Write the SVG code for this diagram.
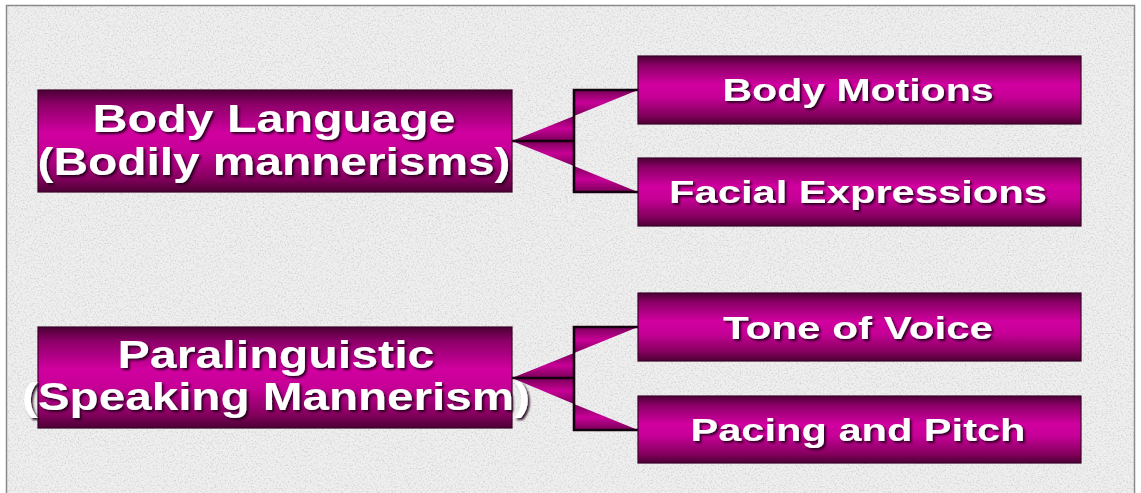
<svg xmlns="http://www.w3.org/2000/svg" width="1141" height="493" viewBox="0 0 1141 493">
  <defs>
    <style>
      .box { fill: url(#boxFill); stroke: #3a0028; stroke-width: 1.2; }
      .wedge { fill: url(#wedgeFill); }
      .bar { stroke: #14000e; stroke-width: 2.6; fill: none; stroke-linecap: square; }
      .lbl { font-family: "Liberation Sans", Arial, sans-serif; font-weight: bold; fill: #ffffff; text-anchor: middle; filter: url(#textShadow); }
      .big { font-size: 39px; }
      .small { font-size: 32px; }
    </style>
    <linearGradient id="boxFill" x1="0" y1="0" x2="0" y2="1">
      <stop offset="0" stop-color="#4a0033"/>
      <stop offset="0.14" stop-color="#8c0068"/>
      <stop offset="0.42" stop-color="#d100a0"/>
      <stop offset="0.6" stop-color="#c60097"/>
      <stop offset="0.86" stop-color="#86005f"/>
      <stop offset="1" stop-color="#4d0035"/>
    </linearGradient>
    <linearGradient id="wedgeFill" x1="0" y1="0" x2="0" y2="1">
      <stop offset="0" stop-color="#7a0058"/>
      <stop offset="0.5" stop-color="#c80098"/>
      <stop offset="1" stop-color="#7a0058"/>
    </linearGradient>
    <filter id="textShadow" x="-5%" y="-20%" width="110%" height="150%">
      <feDropShadow dx="2" dy="2" stdDeviation="0.8" flood-color="#1c0014" flood-opacity="0.9"/>
    </filter>
    <filter id="grain" x="0" y="0" width="100%" height="100%">
      <feTurbulence type="fractalNoise" baseFrequency="0.6" numOctaves="3" seed="7" result="n"/>
      <feColorMatrix in="n" type="matrix" values="0 0 0 0 0.66  0 0 0 0 0.66  0 0 0 0 0.66  2.8 0 0 0 -1.3"/>
    </filter>
  </defs>

  <!-- slide background with stone texture -->
  <rect x="0" y="0" width="1141" height="493" fill="#ffffff"/>
  <rect x="6.5" y="5.5" width="1128" height="495" fill="#efefef"/>
  <rect x="6.5" y="5.5" width="1128" height="495" filter="url(#grain)"/>
  <rect x="6.5" y="5.5" width="1128" height="495" fill="none" stroke="#8a8a8a" stroke-width="1.5"/>

  <!-- bracket connectors -->
  <g id="connectors">
    <!-- upper bracket -->
    <polygon class="wedge" points="512,141 574,116 574,141"/>
    <polygon class="wedge" points="574,90 574,116 638,90"/>
    <polygon class="wedge" points="512,141 574,141 574,166"/>
    <polygon class="wedge" points="574,166 574,192 638,192"/>
    <path class="bar" d="M513,141 H574 M638,90 H574 V192 H638"/>
    <!-- lower bracket -->
    <polygon class="wedge" points="512,378 574,353 574,378"/>
    <polygon class="wedge" points="574,327 574,353 638,327"/>
    <polygon class="wedge" points="512,378 574,378 574,404"/>
    <polygon class="wedge" points="574,404 574,430 638,430"/>
    <path class="bar" d="M513,378 H574 M638,327 H574 V430 H638"/>
  </g>

  <g id="node-body-language">
    <rect class="box" x="38" y="90" width="474" height="102"/>
    <text class="lbl big" x="274" y="132" textLength="363" lengthAdjust="spacingAndGlyphs">Body Language</text>
    <text class="lbl big" x="274" y="175" textLength="473" lengthAdjust="spacingAndGlyphs">(Bodily mannerisms)</text>
  </g>

  <g id="node-body-motions">
    <rect class="box" x="638" y="56" width="443" height="68"/>
    <text class="lbl small" x="858" y="101" textLength="271" lengthAdjust="spacingAndGlyphs">Body Motions</text>
  </g>

  <g id="node-facial-expressions">
    <rect class="box" x="638" y="158" width="443" height="68"/>
    <text class="lbl small" x="858" y="203" textLength="378" lengthAdjust="spacingAndGlyphs">Facial Expressions</text>
  </g>

  <g id="node-paralinguistic">
    <rect class="box" x="38" y="327" width="474" height="101"/>
    <text class="lbl big" x="276" y="368" textLength="317" lengthAdjust="spacingAndGlyphs">Paralinguistic</text>
    <text class="lbl big" x="276" y="410" textLength="508" lengthAdjust="spacingAndGlyphs">(Speaking Mannerism)</text>
  </g>

  <g id="node-tone-of-voice">
    <rect class="box" x="638" y="293" width="443" height="68"/>
    <text class="lbl small" x="858" y="339" textLength="270" lengthAdjust="spacingAndGlyphs">Tone of Voice</text>
  </g>

  <g id="node-pacing-and-pitch">
    <rect class="box" x="638" y="396" width="443" height="67"/>
    <text class="lbl small" x="858" y="441" textLength="335" lengthAdjust="spacingAndGlyphs">Pacing and Pitch</text>
  </g>
</svg>
